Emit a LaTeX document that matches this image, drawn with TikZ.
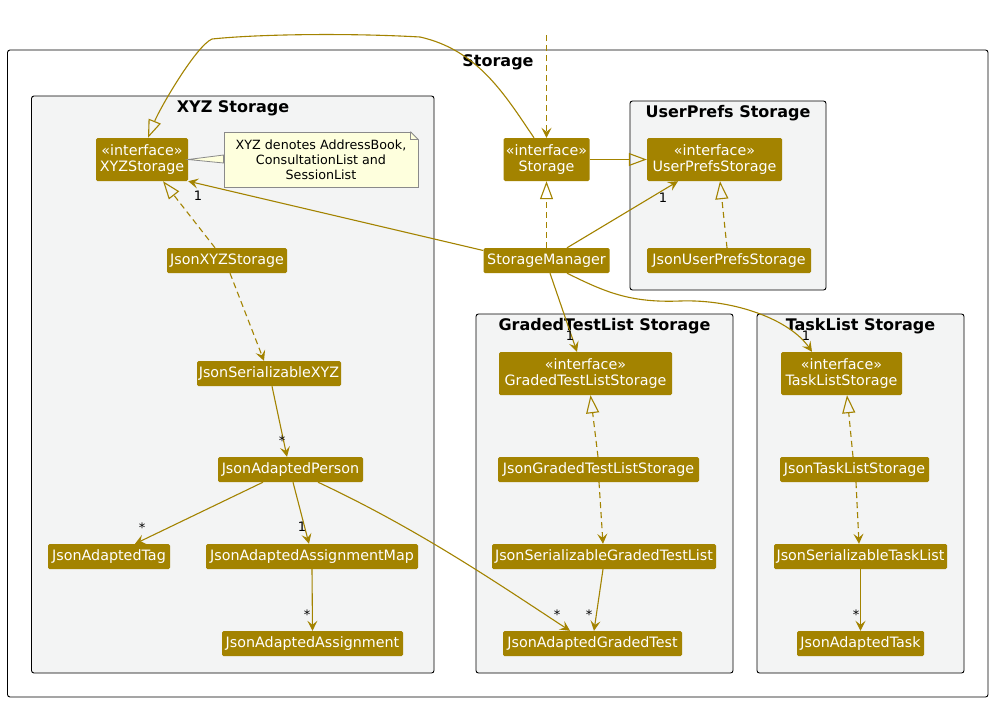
\documentclass[tikz,border=0pt]{standalone}
\usepackage{fontspec}
\setmainfont{DejaVu Sans}
\usetikzlibrary{arrows.meta}
\definecolor{stc}{HTML}{A38300}
\definecolor{pkgbg}{HTML}{F3F4F4}
\definecolor{notebg}{HTML}{FEFFDD}
\definecolor{notebd}{HTML}{8A8A8A}
\tikzset{
 cls/.style={fill=stc, text=white, rounded corners=1.5pt, inner sep=0pt, align=center, font=\fontsize{14.3}{16.7}\selectfont},
 pkg/.style={draw=black, line width=0.9pt, rounded corners=2.5pt},
 ttl/.style={font=\fontsize{16}{19}\selectfont\bfseries, inner sep=0pt, anchor=base},
 assoc/.style={draw=stc, line width=1.1pt, -{Stealth[length=10pt,width=10pt,inset=4pt]}},
 dep/.style={assoc, dash pattern=on 6pt off 4pt},
 real/.style={draw=stc, line width=1.1pt, dash pattern=on 6pt off 4pt, -{Triangle[open,length=18pt,width=13pt]}},
 gen/.style={draw=stc, line width=1.1pt, -{Triangle[open,length=18pt,width=13pt]}},
 mult/.style={font=\fontsize{13}{13}\selectfont, inner sep=0pt},
 notebox/.style={draw=notebd, fill=notebg, line width=0.8pt, inner sep=0pt, align=center, font=\fontsize{12.7}{15}\selectfont},
}
\begin{document}
\begin{tikzpicture}[x=1pt,y=-1pt]
\useasboundingbox (0,0) rectangle (996,702);
% packages
\draw[pkg, fill=white] (7.5,50) rectangle (988,697);
\node[ttl] (tStorage) at (498,66) {Storage};
\draw[pkg, fill=pkgbg] (31.5,96) rectangle (434,673);
\node[ttl] (tXYZ) at (233,112) {XYZ Storage};
\draw[pkg, fill=pkgbg] (630,101) rectangle (826,290);
\node[ttl] (tUP) at (728,117) {UserPrefs Storage};
\draw[pkg, fill=pkgbg] (476,314) rectangle (733,673);
\node[ttl] (tGT) at (604.5,330) {GradedTestList Storage};
\draw[pkg, fill=pkgbg] (757,314) rectangle (964,673);
\node[ttl] (tTL) at (860.5,330) {TaskList Storage};

% classes
\node[cls, minimum width=92pt, minimum height=43pt] (xyzI) at (142,159.5) {«interface»\\XYZStorage};
\node[cls, minimum width=120pt, minimum height=25pt] (jxyz) at (227,260.5) {JsonXYZStorage};
\node[cls, minimum width=144pt, minimum height=25pt] (jsxyz) at (269,373.5) {JsonSerializableXYZ};
\node[cls, minimum width=145pt, minimum height=25pt] (jap) at (290.5,469.5) {JsonAdaptedPerson};
\node[cls, minimum width=122pt, minimum height=25pt] (jat) at (109,556.5) {JsonAdaptedTag};
\node[cls, minimum width=212pt, minimum height=25pt] (jaam) at (312,556.5) {JsonAdaptedAssignmentMap};
\node[cls, minimum width=181pt, minimum height=25pt] (jaa) at (312.5,643.5) {JsonAdaptedAssignment};
\node[cls, minimum width=86pt, minimum height=43pt] (stI) at (546.5,159.5) {«interface»\\Storage};
\node[cls, minimum width=135pt, minimum height=43pt] (upI) at (714.5,159.5) {«interface»\\UserPrefsStorage};
\node[cls, minimum width=126pt, minimum height=25pt] (sm) at (546.5,260.5) {StorageManager};
\node[cls, minimum width=164pt, minimum height=25pt] (jup) at (729,260.5) {JsonUserPrefsStorage};
\node[cls, minimum width=173pt, minimum height=43pt] (gtI) at (585.5,373.5) {«interface»\\GradedTestListStorage};
\node[cls, minimum width=201pt, minimum height=25pt] (jgt) at (598.5,469.5) {JsonGradedTestListStorage};
\node[cls, minimum width=224pt, minimum height=25pt] (jsgt) at (604,556.5) {JsonSerializableGradedTestList};
\node[cls, minimum width=179pt, minimum height=25pt] (jagt) at (592.5,643.5) {JsonAdaptedGradedTest};
\node[cls, minimum width=121pt, minimum height=43pt] (tlI) at (841.5,373.5) {«interface»\\TaskListStorage};
\node[cls, minimum width=149pt, minimum height=25pt] (jtl) at (854.5,469.5) {JsonTaskListStorage};
\node[cls, minimum width=173pt, minimum height=25pt] (jstl) at (860.5,556.5) {JsonSerializableTaskList};
\node[cls, minimum width=127pt, minimum height=25pt] (jat2) at (860.5,643.5) {JsonAdaptedTask};

% note
\node[notebox, minimum width=194pt, minimum height=55pt] (note) at (321,159.5) {XYZ denotes AddressBook,\\ConsultationList and\\SessionList};
\fill[pkgbg] ([xshift=-8pt,yshift=0.6pt]note.north east) -- ([xshift=0.6pt,yshift=0.6pt]note.north east) -- ([xshift=0.6pt,yshift=-8pt]note.north east) -- cycle;
\draw[notebd, line width=0.8pt] ([xshift=-8pt]note.north east) -- ([yshift=-8pt]note.north east);
\draw[notebd, line width=0.8pt] ([xshift=-8pt]note.north east) -- ([xshift=-8pt,yshift=-8pt]note.north east) -- ([yshift=-8pt]note.north east);
\draw[notebd, fill=notebg, line width=0.8pt] (xyzI.east) -- ([yshift=4.5pt]note.west) -- ([yshift=-3.5pt]note.west) -- cycle;

% connectors
\coordinate (topin) at (546.5,35);
\draw[dep] (topin) -- (stI.north);
\draw[gen] (stI.east) -- (upI.west);
\draw[gen] ([xshift=-12.5pt]stI.north) .. controls (505,95) and (478,50) .. (420,37)
  .. controls (350,33) and (260,34) .. (212,39)
  .. controls (196,46) and (160,108) .. ([xshift=6pt]xyzI.north);
\draw[real] (sm.north) -- (stI.south);
\draw[assoc] ([yshift=10pt]sm.west) -- (xyzI.south east);
\node[mult] (m1) at (198,196) {1};
\draw[assoc] ([xshift=20.5pt]sm.north) -- ([xshift=-36.5pt]upI.south);
\node[mult] (m2) at (663,198) {1};
\draw[assoc] ([xshift=3.5pt]sm.south) -- ([xshift=-8.5pt]gtI.north);
\node[mult] (m3) at (570,336) {1};
\draw[assoc] ([xshift=20.5pt]sm.south) .. controls (605,292) and (630,303) .. (680,301)
  .. controls (735,299) and (790,320) .. ([xshift=-29.5pt]tlI.north);
\node[mult] (m4) at (806,336) {1};
\draw[real] ([xshift=-2pt]jup.north) -- ([xshift=5.5pt]upI.south);

\draw[real] ([xshift=-12pt]jxyz.north) -- ([xshift=21pt]xyzI.south);
\draw[dep] ([xshift=3pt]jxyz.south) -- ([xshift=-5pt]jsxyz.north);
\draw[assoc] ([xshift=3pt]jsxyz.south) -- ([xshift=-3.5pt]jap.north);
\node[mult] (m5) at (282,441) {*};
\draw[assoc] ([xshift=-27.5pt]jap.south) -- ([xshift=26pt]jat.north);
\node[mult] (m6) at (142,528) {*};
\draw[assoc] ([xshift=2.5pt]jap.south) -- ([xshift=-3pt]jaam.north);
\node[mult] (m7) at (302,527) {1};
\draw[assoc] (jaam.south) -- (jaa.north);
\node[mult] (m8) at (307,615) {*};
\draw[assoc] ([xshift=27.5pt]jap.south) .. controls (420,530) and (500,585) .. ([xshift=-22.5pt]jagt.north);
\node[mult] (m9) at (557,615) {*};

\draw[real] ([xshift=-0.5pt]jgt.north) -- ([xshift=5pt]gtI.south);
\draw[dep] ([xshift=0.5pt]jgt.south) -- ([xshift=-1pt]jsgt.north);
\draw[assoc] ([xshift=-1pt]jsgt.south) -- ([xshift=1.5pt]jagt.north);
\node[mult] (m10) at (589,615) {*};

\draw[real] ([xshift=-1.5pt]jtl.north) -- ([xshift=5.5pt]tlI.south);
\draw[dep] ([xshift=1.5pt]jtl.south) -- ([xshift=-1.5pt]jstl.north);
\draw[assoc] (jstl.south) -- (jat2.north);
\node[mult] (m11) at (856,615) {*};
\end{tikzpicture}
\end{document}
